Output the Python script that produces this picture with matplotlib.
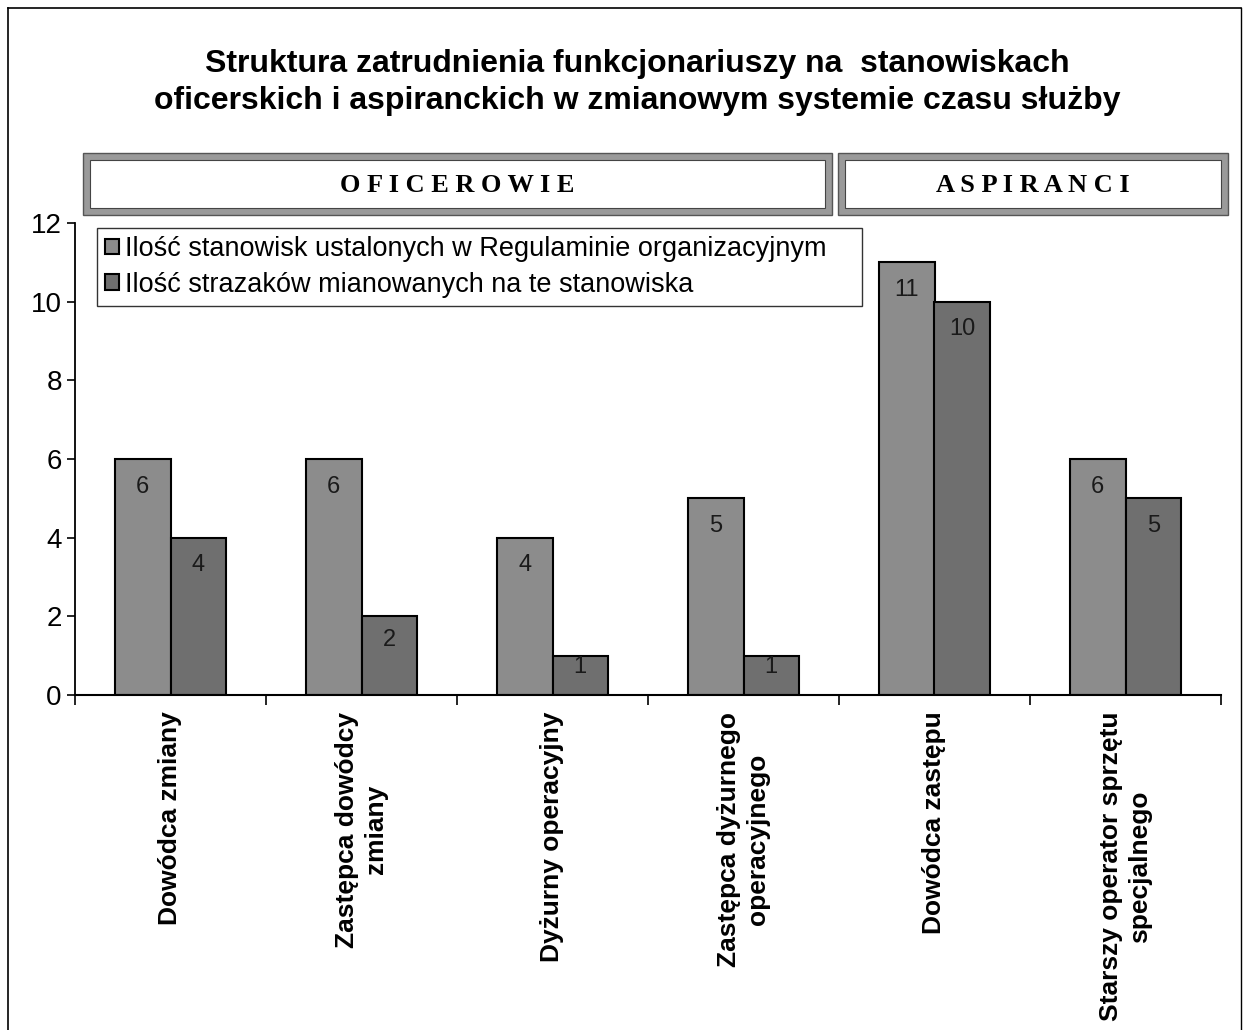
import matplotlib
matplotlib.use("Agg")
import matplotlib.pyplot as plt
from matplotlib.patches import Rectangle
import numpy as np

plt.rcParams["font.family"] = ["Liberation Sans", "DejaVu Sans"]

categories = ["Dowódca zmiany", "Zastępca dowódcy\nzmiany", "Dyżurny operacyjny",
              "Zastępca dyżurnego\noperacyjnego", "Dowódca zastępu",
              "Starszy operator sprzętu\nspecjalnego"]
series_names = ["Ilość stanowisk ustalonych w Regulaminie organizacyjnym",
                "Ilość strazaków mianowanych na te stanowiska"]
etaty = [6, 6, 4, 5, 11, 6]
mianowani = [4, 2, 1, 1, 10, 5]
groups = ["O F I C E R O W I E", "A S P I R A N C I"]

W, H = 1247, 1030
fig = plt.figure(figsize=(W / 100, H / 100), dpi=100)
fig.patch.set_facecolor("white")

def fx(px):
    return px / W

def fy(py):
    return 1 - py / H

ax_x0, ax_x1, ax_y0, ax_y1 = 75, 1221, 695, 223
ax = fig.add_axes([fx(ax_x0), fy(ax_y0), fx(ax_x1) - fx(ax_x0), fy(ax_y1) - fy(ax_y0)])
x = np.arange(len(categories))
bw = 0.29
c1, c2 = "#8c8c8c", "#6f6f6f"
b1 = ax.bar(x - bw / 2, etaty, bw, color=c1, edgecolor="black", linewidth=1.5,
            label=series_names[0])
b2 = ax.bar(x + bw / 2, mianowani, bw, color=c2, edgecolor="black", linewidth=1.5,
            label=series_names[1])
for bars, vals in ((b1, etaty), (b2, mianowani)):
    for rect, v in zip(bars, vals):
        ax.text(rect.get_x() + rect.get_width() / 2, v - min(0.7, v * 0.3), str(v),
                ha="center", va="center", fontsize=17, color="#1a1a1a")

ax.set_xlim(-0.5, len(categories) - 0.5)
ax.set_ylim(0, 12)
ax.set_yticks(range(0, 13, 2))
ax.tick_params(axis="y", labelsize=20, length=6, width=1.2, direction="out")
ax.set_xticks(np.arange(-0.5, len(categories), 1.0))
ax.set_xticklabels([])
ax.tick_params(axis="x", length=7, width=1.2, direction="out")
for s in ("top", "right"):
    ax.spines[s].set_visible(False)
ax.spines["left"].set_linewidth(1.3)
ax.spines["bottom"].set_linewidth(1.5)

for i, c in enumerate(categories):
    ax.text(i, -0.42, c, rotation=90, ha="center", va="top", fontsize=19,
            fontweight="bold", multialignment="center", linespacing=1.3)

axw = ax_x1 - ax_x0
axh = ax_y0 - ax_y1
leg = ax.legend(loc="upper left",
                bbox_to_anchor=((97 - ax_x0) / axw, (ax_y0 - 228) / axh,
                                (862 - 97) / axw, 0.0),
                mode="expand", fontsize=19.5,
                frameon=True, fancybox=False, edgecolor="black", borderpad=0.3,
                handlelength=0.5, handleheight=0.5, handletextpad=0.25,
                labelspacing=0.35, borderaxespad=0)
leg.get_frame().set_linewidth(1.0)

# title
fig.text(fx(637), fy(64), "Struktura zatrudnienia funkcjonariuszy na  stanowiskach",
         ha="center", va="center", fontsize=23, fontweight="bold")
fig.text(fx(637), fy(101), "oficerskich i aspiranckich w zmianowym systemie czasu służby",
         ha="center", va="center", fontsize=23, fontweight="bold")

# group header boxes
for (x0, x1), label in zip(((83, 832), (838, 1228)), groups):
    fig.patches.append(Rectangle((fx(x0), fy(215)), fx(x1) - fx(x0), fy(153) - fy(215),
                                 transform=fig.transFigure, facecolor="#9a9a9a",
                                 edgecolor="#555555", linewidth=1.0))
    fig.patches.append(Rectangle((fx(x0 + 7), fy(208)), fx(x1 - 7) - fx(x0 + 7),
                                 fy(160) - fy(208), transform=fig.transFigure,
                                 facecolor="white", edgecolor="#444444", linewidth=0.8))
    fig.text(fx((x0 + x1) / 2), fy(185), label, ha="center", va="center",
             fontsize=19, fontweight="bold", family="Liberation Serif")

# outer frame
fig.add_artist(plt.Line2D([fx(8), fx(8)], [fy(8), fy(1030)], transform=fig.transFigure,
                          color="black", linewidth=1.2))
fig.add_artist(plt.Line2D([fx(8), fx(1241)], [fy(8), fy(8)], transform=fig.transFigure,
                          color="black", linewidth=1.2))
fig.add_artist(plt.Line2D([fx(1241), fx(1241)], [fy(8), fy(1030)], transform=fig.transFigure,
                          color="black", linewidth=1.0))

fig.savefig("out.png", dpi=100)
